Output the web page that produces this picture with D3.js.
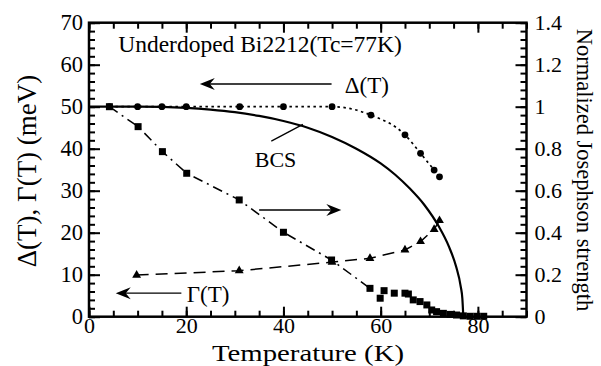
<!DOCTYPE html>
<html>
<head>
<meta charset="utf-8">
<script src="https://cdn.jsdelivr.net/npm/d3@7"></script>
<style>
  body { margin: 0; background: #fff; }
  text { font-family: "Liberation Serif", "Times New Roman", serif; fill: #000; }
</style>
</head>
<body>
<div id="chart"></div>
<script>
// gap Delta(T), circles (meV, left axis)
var deltaT = [4.2, 10, 15, 20, 31, 40, 50, 58, 65, 68.2, 71, 72.1];
var deltaV = [50, 50, 50, 50, 50, 50, 50, 48, 43.3, 38.9, 34.9, 33.3];

// BCS curve (meV)
var bcsT = [0, 10, 20, 25, 30, 35, 40, 45, 50, 55, 60, 63, 66, 69, 72, 74, 75.5, 76.5, 76.8, 77];
var bcsV = [50, 50, 49.7, 49.3, 48.7, 47.8, 46.6, 45, 42.8, 40, 36.5, 33.8, 30.5, 26.6, 21.4, 16.8, 12, 7, 4.4, 0];

// Normalized Josephson strength, squares (right axis)
var jsT = [4.2, 10.1, 15.1, 20.1, 30.9, 40, 49.9, 57.8, 59.9, 60.7, 62.8, 65, 65.7, 66.7, 68.1, 69.5, 70.5, 71.5, 72.9, 74.3, 75.6, 77, 78.4, 79.8, 81.2];
var jsV = [1.0, 0.905, 0.786, 0.683, 0.556, 0.402, 0.27, 0.135, 0.088, 0.124, 0.112, 0.112, 0.108, 0.08, 0.072, 0.056, 0.032, 0.024, 0.016, 0.011, 0.008, 0.004, 0.002, 0.002, 0.002];
var jsLineCount = 8; // dash-dot line runs through the first squares only

// Gamma(T), triangles (meV, left axis)
var gamT = [9.8, 30.9, 50, 57.8, 65, 68.2, 71, 72.1];
var gamV = [9.9, 10.95, 13.0, 13.9, 15.9, 17.9, 20.8, 22.9];

var xTicks = [0, 20, 40, 60, 80];
var yLeftTicks = [0, 10, 20, 30, 40, 50, 60, 70];
var yRightTicks = [0, 0.2, 0.4, 0.6, 0.8, 1, 1.2, 1.4];

var width = 601, height = 366;
var svg = d3.select("#chart").append("svg")
    .attr("width", width)
    .attr("height", height);

var x = d3.scaleLinear().domain([0, 90]).range([89, 526.5]);
var yL = d3.scaleLinear().domain([0, 70]).range([316.7, 22.7]);
var yR = d3.scaleLinear().domain([0, 1.4]).range([316.7, 22.7]);

function pts(xs, ys) {
    return xs.map(function (d, i) { return [d, ys[i]]; });
}

// minor ticks
var xMinor = d3.range(0, 91, 5);
var yLMinor = d3.range(0, 71, 2);
var yRMinor = d3.range(0, 1.401, 0.04);

function minorAxis(axis, vals, size) {
    return axis.tickValues(vals).tickSize(size).tickFormat("");
}

// bottom
svg.append("g").attr("transform", "translate(0," + yL(0) + ")")
    .call(minorAxis(d3.axisBottom(x), xMinor, -6));
svg.append("g").attr("class", "tickLabB").attr("transform", "translate(0," + yL(0) + ")")
    .call(d3.axisBottom(x).tickValues(xTicks).tickSize(-10).tickPadding(1));
// top
svg.append("g").attr("transform", "translate(0," + yL(70) + ")")
    .call(minorAxis(d3.axisTop(x), xMinor, -6));
svg.append("g").attr("transform", "translate(0," + yL(70) + ")")
    .call(d3.axisTop(x).tickValues(xTicks).tickSize(-10).tickFormat(""));
// left
svg.append("g").attr("transform", "translate(" + x(0) + ",0)")
    .call(minorAxis(d3.axisLeft(yL), yLMinor, -6));
svg.append("g").attr("class", "tickLab").attr("transform", "translate(" + x(0) + ",0)")
    .call(d3.axisLeft(yL).tickValues(yLeftTicks).tickSize(-11).tickPadding(6));
// right
svg.append("g").attr("transform", "translate(" + x(90) + ",0)")
    .call(minorAxis(d3.axisRight(yR), yRMinor, -6));
svg.append("g").attr("class", "tickLabR").attr("transform", "translate(" + x(90) + ",0)")
    .call(d3.axisRight(yR).tickValues(yRightTicks).tickSize(-11).tickPadding(8)
        .tickFormat(function (d) { return d3.format("~g")(d); }));

svg.selectAll(".domain").remove();
svg.selectAll(".tick line").attr("stroke", "#000").attr("stroke-width", 2);
svg.selectAll(".tickLab text").style("font-size", "22.5px");
svg.selectAll(".tickLabB text").style("font-size", "22px");
svg.selectAll(".tickLabR text").style("font-size", "22px");

// frame
svg.append("rect")
    .attr("x", x(0)).attr("y", yL(70))
    .attr("width", x(90) - x(0)).attr("height", yL(0) - yL(70))
    .attr("fill", "none").attr("stroke", "#000").attr("stroke-width", 2.5);

var lineL = d3.line().x(function (d) { return x(d[0]); }).y(function (d) { return yL(d[1]); });
var lineR = d3.line().x(function (d) { return x(d[0]); }).y(function (d) { return yR(d[1]); });

// BCS solid
svg.append("path")
    .attr("d", lineL.curve(d3.curveMonotoneX)(pts(bcsT, bcsV)))
    .attr("fill", "none").attr("stroke", "#000").attr("stroke-width", 2.2);

// Delta dotted
svg.append("path")
    .attr("d", lineL.curve(d3.curveMonotoneX)(pts(deltaT, deltaV)))
    .attr("fill", "none").attr("stroke", "#000").attr("stroke-width", 1.7)
    .attr("stroke-dasharray", "2.5,3.5");

// Gamma dashed
svg.append("path")
    .attr("d", lineL.curve(d3.curveLinear)(pts(gamT, gamV)))
    .attr("fill", "none").attr("stroke", "#000").attr("stroke-width", 1.5)
    .attr("stroke-dasharray", "12,7");

// Josephson dash-dot
svg.append("path")
    .attr("d", lineR.curve(d3.curveLinear)(pts(jsT, jsV).slice(0, jsLineCount)))
    .attr("fill", "none").attr("stroke", "#000").attr("stroke-width", 1.5)
    .attr("stroke-dasharray", "10,5,2,5");

// markers
svg.selectAll(".dot").data(pts(deltaT, deltaV)).enter().append("circle")
    .attr("cx", function (d) { return x(d[0]); })
    .attr("cy", function (d) { return yL(d[1]); })
    .attr("r", 3.4).attr("fill", "#000");

svg.selectAll(".tri").data(pts(gamT, gamV)).enter().append("path")
    .attr("d", d3.symbol().type(d3.symbolTriangle).size(34))
    .attr("transform", function (d) { return "translate(" + x(d[0]) + "," + yL(d[1]) + ")"; })
    .attr("fill", "#000");

svg.selectAll(".sq").data(pts(jsT, jsV)).enter().append("rect")
    .attr("x", function (d) { return x(d[0]) - 3.5; })
    .attr("y", function (d) { return yR(d[1]) - 3.5; })
    .attr("width", 7).attr("height", 7).attr("fill", "#000");

// arrows
function arrow(t0, t1, v) {
    var x0 = x(t0), x1 = x(t1), y = yL(v);
    var dir = x1 > x0 ? 1 : -1;
    svg.append("line")
        .attr("x1", x0).attr("y1", y).attr("x2", x1 - dir * 6).attr("y2", y)
        .attr("stroke", "#000").attr("stroke-width", 1.3);
    svg.append("path")
        .attr("d", "M" + x1 + "," + y +
            "L" + (x1 - dir * 15) + "," + (y - 6) +
            "L" + (x1 - dir * 10) + "," + y +
            "L" + (x1 - dir * 15) + "," + (y + 6) + "Z")
        .attr("fill", "#000");
}
arrow(49.9, 22.8, 55.4);
arrow(35, 51.9, 25.4);
arrow(19, 5.5, 5.6);

// BCS leader
svg.append("line")
    .attr("x1", x(37.5)).attr("y1", yL(41.8))
    .attr("x2", x(44)).attr("y2", yL(45.8))
    .attr("stroke", "#000").attr("stroke-width", 1.3);

// annotations
function label(t, v, s, size) {
    svg.append("text").attr("x", x(t)).attr("y", yL(v))
        .style("font-size", size + "px").text(s);
}
label(6, 63, "Underdoped Bi2212(Tc=77K)", 23.5);
label(52.6, 53.3, "Δ(T)", 23);
label(34.1, 35.7, "BCS", 22);
label(20.1, 3.5, "Γ(T)", 23);

// axis titles
svg.append("text")
    .attr("x", 308).attr("y", 360.5)
    .attr("text-anchor", "middle")
    .attr("textLength", 192)
    .attr("lengthAdjust", "spacingAndGlyphs")
    .style("font-size", "24px")
    .text("Temperature (K)");

svg.append("text")
    .attr("transform", "translate(36," + 171 + ") rotate(-90)")
    .attr("text-anchor", "middle")
    .style("font-size", "27px")
    .text("Δ(T), Γ(T) (meV)");

svg.append("text")
    .attr("transform", "translate(577," + 170 + ") rotate(90)")
    .attr("text-anchor", "middle")
    .style("font-size", "22.5px")
    .text("Normalized Josephson strength");
</script>
</body>
</html>
